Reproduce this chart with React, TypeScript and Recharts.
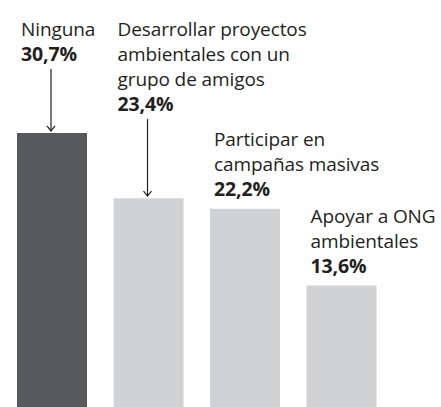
import { Bar, BarChart, XAxis, YAxis, Cell } from "recharts"

// categorías partidas en líneas, tal como aparecen en el gráfico
const categories = [
  ["Ninguna"],
  ["Desarrollar proyectos", "ambientales con un", "grupo de amigos"],
  ["Participar en", "campañas masivas"],
  ["Apoyar a ONG", "ambientales"],
]
const values = [30.7, 23.4, 22.2, 13.6]
const valueLabels = ["30,7%", "23,4%", "22,2%", "13,6%"]
// etiquetas fijas arriba con flecha hacia la barra
const withArrow = [true, true, false, false]

const DARK = "#58595b"
const LIGHT = "#d1d2d4"
const TEXT = "#231f20"
const FONT = "'Open Sans', sans-serif"
const LINE = 25

const chartData = values.map((v, i) => ({
  name: categories[i].join(" "),
  value: v,
}))

const BarLabel = (props: any) => {
  const { x, y, index } = props
  const lines = categories[index]
  const tx = x + 4
  const all = [...lines, valueLabels[index]]
  let firstBaseline: number
  if (withArrow[index]) {
    firstBaseline = 36
  } else {
    firstBaseline = y - 13 - (all.length - 1) * LINE
  }
  const lastBaseline = firstBaseline + (all.length - 1) * LINE
  const ax = tx + 30
  return (
    <g>
      {all.map((t, i) => {
        const bold = i === all.length - 1
        return (
          <text
            key={i}
            x={tx}
            y={firstBaseline + i * LINE}
            fill={TEXT}
            fontFamily={FONT}
            fontSize={bold ? 19.5 : 19}
            letterSpacing={-0.1}
            fontWeight={bold ? 700 : 400}
          >
            {t}
          </text>
        )
      })}
      {withArrow[index] && (
        <g stroke={TEXT} strokeWidth={1.2} fill="none">
          <line x1={ax} y1={lastBaseline + 8} x2={ax} y2={y - 2} />
          <polyline points={`${ax - 4},${y - 7} ${ax},${y - 2} ${ax + 4},${y - 7}`} />
        </g>
      )}
    </g>
  )
}

export default function App() {
  return (
    <div style={{ position: "absolute", left: 0, top: 0, background: "#fff" }}>
      <BarChart
        width={441}
        height={407}
        data={chartData}
        margin={{ top: 0, right: 51, left: 4, bottom: 0 }}
        barSize={70}
      >
        <XAxis dataKey="name" hide />
        <YAxis hide domain={[0, 45.6]} />
        <Bar
          dataKey="value"
          isAnimationActive={false}
          label={<BarLabel />}
        >
          {chartData.map((entry, index) => (
            <Cell key={`cell-${index}`} fill={index === 0 ? DARK : LIGHT} />
          ))}
        </Bar>
      </BarChart>
    </div>
  )
}
